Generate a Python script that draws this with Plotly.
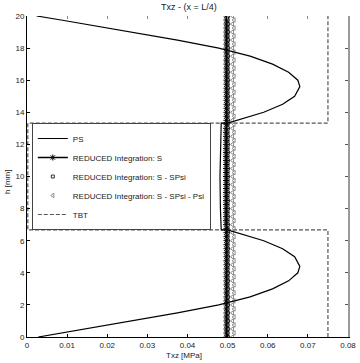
import plotly.graph_objects as go

# ---- data ----
# PS solution, three layers
ps_y = [0, 0.25, 0.5, 0.75, 1.0, 1.5, 2.0, 2.5, 3.0, 3.5, 4.0, 4.4, 5.0, 5.5, 6.0, 6.67,
        6.67, 8.0, 10.0, 12.0, 13.33,
        13.33, 14.0, 14.5, 15.0, 15.6, 16.0, 16.5, 17.0, 17.5, 18.0, 18.5, 19.0, 19.25, 19.5, 19.75, 20.0]
ps_x = [0.0028, 0.0085, 0.0145, 0.0205, 0.0262, 0.0375, 0.0478, 0.0556, 0.0612, 0.0652, 0.0675, 0.0680,
        0.0667, 0.0637, 0.0590, 0.0500,
        0.0484, 0.0482, 0.0481, 0.0482, 0.0484,
        0.0500, 0.0590, 0.0637, 0.0667, 0.0680, 0.0675, 0.0652, 0.0612, 0.0556, 0.0478, 0.0375,
        0.0262, 0.0205, 0.0145, 0.0085, 0.0024]

# reduced-integration nodes (dense along the height)
node_y = [0, 0.25, 0.5, 0.75, 1, 1.25, 1.5, 1.75, 2, 2.25, 2.5, 2.75, 3, 3.25, 3.5, 3.75,
          4, 4.25, 4.5, 4.75, 5, 5.25, 5.5, 5.75, 6, 6.25, 6.5, 6.75, 7, 7.25, 7.5, 7.75,
          8, 8.25, 8.5, 8.75, 9, 9.25, 9.5, 9.75, 10, 10.25, 10.5, 10.75, 11, 11.25, 11.5, 11.75,
          12, 12.25, 12.5, 12.75, 13, 13.25, 13.5, 13.75, 14, 14.25, 14.5, 14.75, 15, 15.25,
          15.5, 15.75, 16, 16.25, 16.5, 16.75, 17, 17.25, 17.5, 17.75, 18, 18.25, 18.5, 18.75,
          19, 19.25, 19.5, 19.75, 20]
s_x = [0.0497] * 28 + [0.0496] * 25 + [0.0497] * 28
s_spsi_x = [0.0501, 0.0500] * 40 + [0.0501]
s_spsi_psi_x = [0.0512, 0.0516] * 40 + [0.0512]

# TBT solution (piecewise constant)
tbt_y = [0, 6.67, 6.67, 13.33, 13.33, 20]
tbt_x = [0.075, 0.075, 0.0002, 0.0002, 0.075, 0.075]

x_ticks = [0, 0.01, 0.02, 0.03, 0.04, 0.05, 0.06, 0.07, 0.08]
x_ticktext = ["0", "0.01", "0.02", "0.03", "0.04", "0.05", "0.06", "0.07", "0.08"]
y_ticks = [0, 2, 4, 6, 8, 10, 12, 14, 16, 18, 20]

FONT = "Liberation Sans, Arial, sans-serif"
TXT = "#222222"

fig = go.Figure()
fig.add_trace(go.Scatter(x=tbt_x, y=tbt_y, mode="lines", name="TBT",
                         line=dict(color="#555555", width=1.2, dash="4px,2px"), legendrank=5))
fig.add_trace(go.Scatter(x=s_spsi_psi_x, y=node_y, mode="markers",
                         name="REDUCED Integration: S - SPsi - Psi",
                         marker=dict(symbol="triangle-left-open", size=4, color="#8a8a8a",
                                     line=dict(width=1)), legendrank=4))
fig.add_trace(go.Scatter(x=s_spsi_x, y=node_y, mode="markers",
                         name="REDUCED Integration: S - SPsi",
                         marker=dict(symbol="square-open", size=3, color="#333333",
                                     line=dict(width=1)), legendrank=3))
fig.add_trace(go.Scatter(x=s_x, y=node_y, mode="lines+markers",
                         name="REDUCED Integration: S",
                         line=dict(color="black", width=1.5),
                         marker=dict(symbol="asterisk-open", size=5, color="black",
                                     line=dict(width=1, color="black")), legendrank=2))
fig.add_trace(go.Scatter(x=ps_x, y=ps_y, mode="lines", name="PS",
                         line=dict(color="black", width=1.2), legendrank=1))

fig.update_layout(
    width=360, height=363,
    margin=dict(l=27, r=12, t=16, b=26),
    paper_bgcolor="white", plot_bgcolor="white",
    font=dict(family=FONT, size=8, color=TXT),
    title=dict(text="Txz - (x = L/4)", x=0.525, xanchor="center", y=0.981, yanchor="middle",
               yref="container", font=dict(size=9, color=TXT)),
    showlegend=True,
    legend=dict(x=0.015, xanchor="left", y=0.5, yanchor="middle",
                bgcolor="white", bordercolor="#444444", borderwidth=1,
                font=dict(size=8, family=FONT, color=TXT),
                itemwidth=30, traceorder="normal", tracegroupgap=0),
    xaxis=dict(range=[0, 0.08], tickvals=x_ticks, ticktext=x_ticktext,
               ticks="inside", ticklen=3, tickcolor="black", showgrid=False, zeroline=False,
               showline=True, linecolor="black", linewidth=1, mirror=False,
               automargin=False, tickfont=dict(size=8)),
    xaxis2=dict(range=[0, 0.08], tickvals=x_ticks, overlaying="x", side="top",
                ticks="inside", ticklen=3, tickcolor="#888888", showticklabels=False,
                showgrid=False, zeroline=False, showline=False),
    yaxis=dict(range=[0, 20], tickvals=y_ticks, ticks="inside", ticklen=3, tickcolor="black",
               showgrid=False, zeroline=False, showline=True, linecolor="black", linewidth=1,
               mirror=False, automargin=False, tickfont=dict(size=8)),
    yaxis2=dict(range=[0, 20], tickvals=y_ticks, overlaying="y", side="right",
                ticks="inside", ticklen=3, tickcolor="#555555", showticklabels=False,
                showgrid=False, zeroline=False, showline=True, linecolor="#999999", linewidth=2),
    annotations=[
        dict(text="Txz [MPa]", xref="paper", yref="paper", x=0.49, y=-0.059,
             xanchor="center", yanchor="middle", showarrow=False, font=dict(size=8, color=TXT)),
        dict(text="h [mm]", xref="paper", yref="paper", x=-0.059, y=0.483, textangle=-90,
             xanchor="center", yanchor="middle", showarrow=False, font=dict(size=8, color=TXT)),
    ],
)
# dummy invisible trace to activate the mirror axes
fig.add_trace(go.Scatter(x=[None], y=[None], xaxis="x2", yaxis="y2", showlegend=False,
                         hoverinfo="skip"))

fig.write_html("out.html", config={"displayModeBar": False},
               post_script="document.body.style.margin='0';")
